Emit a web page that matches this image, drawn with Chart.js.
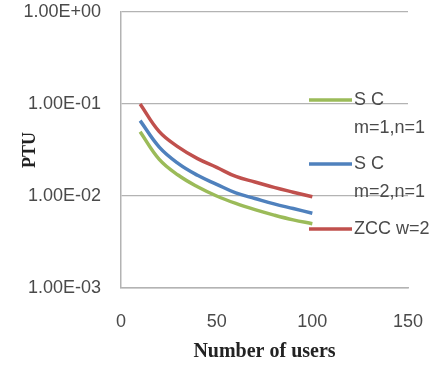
<!DOCTYPE html>
<html>
<head>
<meta charset="utf-8">
<script src="https://cdn.jsdelivr.net/npm/chart.js@4.4.0/dist/chart.umd.min.js"></script>
<style>
  html, body { margin: 0; padding: 0; background: #fff; }
  #wrap { width: 430px; height: 369px; }
</style>
</head>
<body>
<div id="wrap"><canvas id="chart" width="430" height="369"></canvas></div>
<script>
const users = [10, 20, 30, 40, 50, 60, 70, 80, 90, 100];
const sc11 = [0.050, 0.025, 0.0168, 0.0126, 0.0100, 0.0083, 0.0071, 0.0062, 0.0055, 0.0050];
const sc21 = [0.066, 0.034, 0.0225, 0.0168, 0.0134, 0.0108, 0.0094, 0.0082, 0.0073, 0.0065];
const zcc2 = [0.100, 0.050, 0.0340, 0.0255, 0.0205, 0.0163, 0.0142, 0.0124, 0.0110, 0.0098];

const seriesNames = [['S C', 'm=1,n=1'], ['S C', 'm=2,n=1'], ['ZCC w=2']];
const seriesColors = ['#9BBB59', '#4F81BD', '#C0504D'];
const yTickValues = [0.001, 0.01, 0.1, 1];
const yTickLabels = ['1.00E-03', '1.00E-02', '1.00E-01', '1.00E+00'];
const xTickValues = [0, 50, 100, 150];

function toPoints(values) {
  let pts = [];
  for (let i = 0; i < users.length; i++) {
    pts.push({ x: users[i], y: values[i] });
  }
  return pts;
}

// legend drawn by hand so labels can wrap like the original
const sideLegend = {
  id: 'sideLegend',
  afterDraw(chart) {
    const ctx = chart.ctx;
    const rows = [100, 164, 229];
    ctx.save();
    ctx.font = '18px "Liberation Sans", Arial, sans-serif';
    ctx.textBaseline = 'middle';
    ctx.fillStyle = '#4a4a4a';
    for (let i = 0; i < seriesNames.length; i++) {
      const y = rows[i];
      ctx.strokeStyle = seriesColors[i];
      ctx.lineWidth = 3.5;
      ctx.beginPath();
      ctx.moveTo(309, y);
      ctx.lineTo(352, y);
      ctx.stroke();
      const lines = seriesNames[i];
      for (let j = 0; j < lines.length; j++) {
        ctx.fillText(lines[j], 354, y + j * 28);
      }
    }
    ctx.restore();
  }
};

const datasets = [sc11, sc21, zcc2].map(function (vals, i) {
  return {
    label: seriesNames[i].join(' '),
    data: toPoints(vals),
    borderColor: seriesColors[i],
    backgroundColor: seriesColors[i],
    borderWidth: 3.5,
    pointRadius: 0,
    tension: 0.4,
    fill: false
  };
});

new Chart(document.getElementById('chart'), {
  type: 'line',
  data: { datasets: datasets },
  plugins: [sideLegend],
  options: {
    responsive: false,
    animation: false,
    layout: { padding: { left: 0, top: 12, right: 22, bottom: 0 } },
    plugins: {
      legend: { display: false },
      tooltip: { enabled: false }
    },
    scales: {
      x: {
        type: 'linear',
        min: 0,
        max: 150,
        afterBuildTicks: function (scale) {
          scale.ticks = xTickValues.map(function (v) { return { value: v }; });
        },
        afterFit: function (scale) {
          scale.height = 81;
          scale.paddingLeft = 0;
          scale.paddingRight = 0;
        },
        grid: { display: false, drawTicks: false },
        border: { color: '#b3b3b3', width: 1.5 },
        ticks: {
          padding: 23,
          color: '#4a4a4a',
          font: { family: '"Liberation Sans", Arial, sans-serif', size: 18 }
        },
        title: {
          display: true,
          text: 'Number of users',
          color: '#222',
          padding: { top: 0, bottom: 5 },
          font: { family: '"Liberation Serif", "Times New Roman", serif', size: 20, weight: 'bold' }
        }
      },
      y: {
        type: 'logarithmic',
        min: 0.001,
        max: 1,
        afterBuildTicks: function (scale) {
          scale.ticks = yTickValues.map(function (v) { return { value: v }; });
        },
        afterFit: function (scale) {
          scale.width = 121;
          scale.paddingTop = 0;
          scale.paddingBottom = 0;
        },
        grid: { color: '#b3b3b3', lineWidth: 1.2, drawTicks: false },
        border: { color: '#b3b3b3', width: 1.5 },
        ticks: {
          padding: 20,
          color: '#4a4a4a',
          font: { family: '"Liberation Sans", Arial, sans-serif', size: 18 },
          callback: function (value) {
            const idx = yTickValues.indexOf(value);
            return idx >= 0 ? yTickLabels[idx] : '';
          }
        },
        title: {
          display: true,
          text: 'PTU',
          color: '#222',
          padding: { top: 20, bottom: 0 },
          font: { family: '"Liberation Serif", "Times New Roman", serif', size: 18, weight: 'bold' }
        }
      }
    }
  }
});
</script>
</body>
</html>
